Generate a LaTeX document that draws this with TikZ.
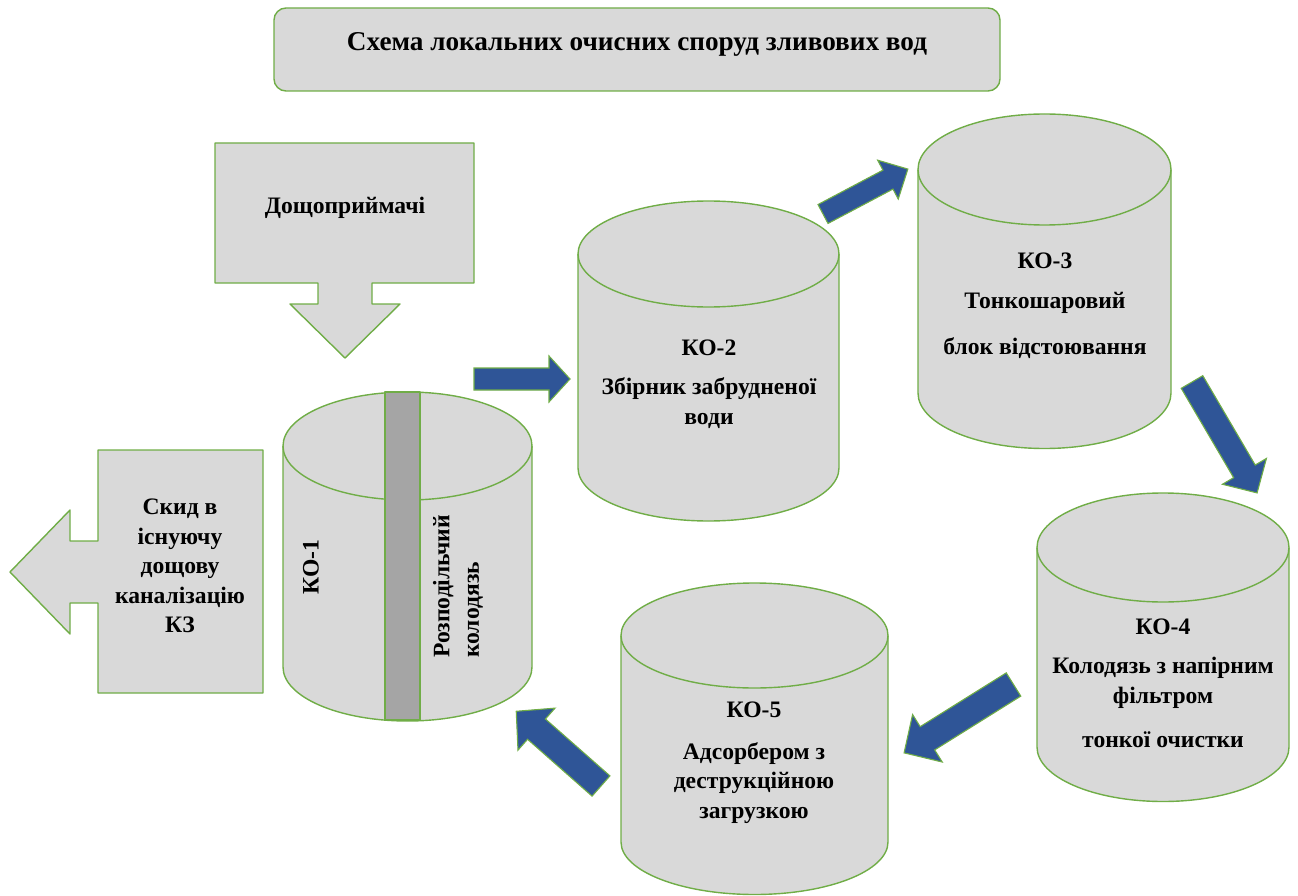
\documentclass[tikz,border=0pt]{standalone}
\usepackage{fontspec}
\setmainfont{Liberation Serif}
\definecolor{boxgray}{HTML}{D9D9D9}
\definecolor{bargray}{HTML}{A5A5A5}
\definecolor{frame}{HTML}{70AD47}
\definecolor{flowblue}{HTML}{2F5597}
\newcommand\drawcyl[5]{% cx, rx, ty, ry, by  (pixel coords, y down)
  \draw[shapestyle] ({#1-#2},-#3) -- ({#1-#2},-#5)
    arc[start angle=180,end angle=360,x radius=#2,y radius=#4]
    -- ({#1+#2},-#3)
    arc[start angle=0,end angle=180,x radius=#2,y radius=#4] -- cycle;
  \draw[edgestyle] ({#1-#2},-#3) arc[start angle=180,end angle=360,x radius=#2,y radius=#4];
}
\newcommand\flowarrow[7]{% tail x, tail y, page angle, length, shaft half, head half, head length
  \begin{scope}[shift={(#1,-#2)},rotate=#3]
    \draw[flowarr] (0,#5) -- ({#4-#7},#5) -- ({#4-#7},#6) -- (#4,0)
      -- ({#4-#7},-#6) -- ({#4-#7},-#5) -- (0,-#5) -- cycle;
  \end{scope}
}
\begin{document}
\begin{tikzpicture}[x=1pt,y=1pt,
  shapestyle/.style={fill=boxgray,draw=frame,line width=1.4pt,line join=round},
  edgestyle/.style={draw=frame,line width=1.4pt},
  flowarr/.style={fill=flowblue,draw=frame,line width=1.1pt,line join=miter},
  lbl/.style={font=\bfseries\fontsize{23.6}{29.5}\selectfont,align=center,inner sep=0pt,text=black},
  titlelbl/.style={font=\bfseries\fontsize{27.2}{30}\selectfont,inner sep=0pt}]
\useasboundingbox (0,0) rectangle (1298,-896);

% title
\node[shapestyle,rounded corners=12pt,minimum width=726pt,minimum height=83pt,inner sep=0pt] (titlebox) at (637,-49.5) {};
\node[titlelbl] (title) at (637,-44) {Схема локальних очисних споруд зливових вод};

% Дощоприймачі callout
\draw[shapestyle] (215,-143) -- (474,-143) -- (474,-283) -- (372,-283) -- (372,-304) -- (400,-304)
  -- (345,-358) -- (290,-304) -- (318,-304) -- (318,-283) -- (215,-283) -- cycle;
\node[lbl] (rain) at (345,-208) {Дощоприймачі};

% Скид callout
\draw[shapestyle] (98,-450) -- (263,-450) -- (263,-693) -- (98,-693) -- (98,-603) -- (70,-603)
  -- (70,-634) -- (10,-572) -- (70,-510) -- (70,-541) -- (98,-541) -- cycle;
\node[lbl] (outlet) at (180,-566) {Скид в\\існуючу\\дощову\\каналізацію\\КЗ};

% cylinders
\drawcyl{407.5}{124.5}{446}{54}{667}
\draw[shapestyle,fill=bargray] (385,-392) rectangle (420,-720);
\node[lbl,rotate=90] (ko1) at (311,-567) {КО-1};
\node[lbl,rotate=90,align=left,anchor=west] (ko1t) at (458,-658) {Розподільчий\\колодязь};

\drawcyl{708.5}{130.5}{254}{53}{468}
\node[lbl] (ko2) at (709,-348) {КО-2};
\node[lbl] (ko2t) at (709,-403) {Збірник забрудненої\\води};

\drawcyl{1044.5}{126.5}{169.5}{55.5}{393}
\node[lbl] (ko3) at (1045,-261) {КО-3};
\node[lbl] (ko3a) at (1045,-303) {Тонкошаровий};
\node[lbl] (ko3b) at (1045,-348) {блок відстоювання};

\drawcyl{1163}{126}{547.5}{54.5}{747}
\node[lbl] (ko4) at (1163,-627) {КО-4};
\node[lbl] (ko4a) at (1163,-683) {Колодязь з напірним\\фільтром};
\node[lbl] (ko4b) at (1163,-740) {тонкої очистки};

\drawcyl{754.5}{133.5}{635.5}{52.5}{842}
\node[lbl] (ko5) at (754,-710) {КО-5};
\node[lbl] (ko5t) at (754,-783) {Адсорбером з\\деструкційною\\загрузкою};

% flow arrows
\flowarrow{474}{379}{0}{96}{11}{23}{21}
\flowarrow{823}{214}{27.9}{96}{10.7}{22}{22.5}
\flowarrow{1192}{382}{-59.6}{128.6}{12.5}{25.5}{25}
\flowarrow{1013.5}{684.5}{-148}{129}{13.7}{28}{27.5}
\flowarrow{601}{786}{138.6}{113}{13.5}{28}{27}
\end{tikzpicture}
\end{document}
